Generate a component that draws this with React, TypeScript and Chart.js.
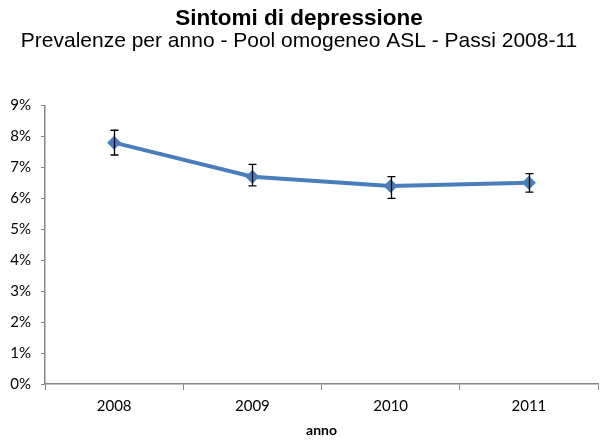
import React, { useEffect, useRef } from "react";
import { Chart, registerables } from "chart.js";

Chart.register(...registerables);

const years = ["2008", "2009", "2010", "2011"];
const prevalence = [7.8, 6.7, 6.4, 6.5];
const ciLow = [7.4, 6.4, 6.0, 6.2];
const ciHigh = [8.2, 7.1, 6.7, 6.8];

const errorBars = {
  id: "errorBars",
  afterDatasetsDraw(chart: any) {
    const ctx = chart.ctx;
    const meta = chart.getDatasetMeta(0);
    const y = chart.scales.y;
    ctx.save();
    ctx.strokeStyle = "#000000";
    ctx.lineWidth = 1.3;
    meta.data.forEach((pt: any, i: number) => {
      const x = Math.round(pt.x) + 0.5;
      const yl = y.getPixelForValue(ciLow[i]);
      const yh = y.getPixelForValue(ciHigh[i]);
      ctx.beginPath();
      ctx.moveTo(x, yl);
      ctx.lineTo(x, yh);
      ctx.moveTo(x - 4, yl);
      ctx.lineTo(x + 4, yl);
      ctx.moveTo(x - 4, yh);
      ctx.lineTo(x + 4, yh);
      ctx.stroke();
    });
    ctx.restore();
  },
};

export default function App() {
  const ref = useRef<HTMLCanvasElement>(null);
  useEffect(() => {
    const chart = new Chart(ref.current!, {
      type: "line",
      data: {
        labels: years,
        datasets: [
          {
            data: prevalence,
            borderColor: "#4a7ebb",
            backgroundColor: "#4a7ebb",
            borderWidth: 4,
            pointStyle: "rectRot",
            pointRadius: 7,
            pointBorderWidth: 0,
            tension: 0,
          },
        ],
      },
      options: {
        animation: false,
        responsive: false,
        layout: { padding: { left: 0, right: 14, top: 0, bottom: 0 } },
        plugins: {
          legend: { display: false },
          tooltip: { enabled: false },
          title: {
            display: true,
            text: "Sintomi di depressione",
            color: "#000",
            font: { family: "Liberation Sans", size: 22.5, weight: "bold", lineHeight: 1 },
            padding: { top: 8, bottom: 0 },
          },
          subtitle: {
            display: true,
            text: "Prevalenze per anno - Pool omogeneo ASL - Passi 2008-11",
            color: "#000",
            font: { family: "Liberation Sans", size: 21, lineHeight: 1 },
            padding: { top: 0, bottom: 54 },
          },
        },
        scales: {
          x: {
            offset: true,
            grid: {
              offset: true,
              drawOnChartArea: false,
              drawTicks: true,
              tickLength: 6,
              color: "#868686",
            },
            border: { color: "#868686", width: 1.5 },
            ticks: {
              color: "#000",
              font: { family: "Lato", size: 15 },
              padding: 7,
            },
            title: {
              display: true,
              text: "anno",
              color: "#000",
              font: { family: "Lato", size: 14, weight: "bold" },
              padding: { top: 4, bottom: 2 },
            },
            afterFit(scale: any) {
              scale.height = 57;
            },
          },
          y: {
            min: 0,
            max: 9,
            grid: {
              drawOnChartArea: false,
              drawTicks: true,
              tickLength: 4,
              color: "#868686",
            },
            border: { color: "#868686", width: 1.5 },
            ticks: {
              stepSize: 1,
              color: "#000",
              font: { family: "Lato", size: 15 },
              padding: 10,
              callback: (v: any) => v + "%",
            },
            afterFit(scale: any) {
              scale.width = 45;
            },
          },
        },
      },
      plugins: [errorBars],
    });
    return () => chart.destroy();
  }, []);
  return (
    <div style={{ position: "absolute", left: 0, top: 0, width: 612, height: 441, background: "#fff" }}>
      <canvas ref={ref} width={612} height={441} style={{ display: "block" }} />
    </div>
  );
}
